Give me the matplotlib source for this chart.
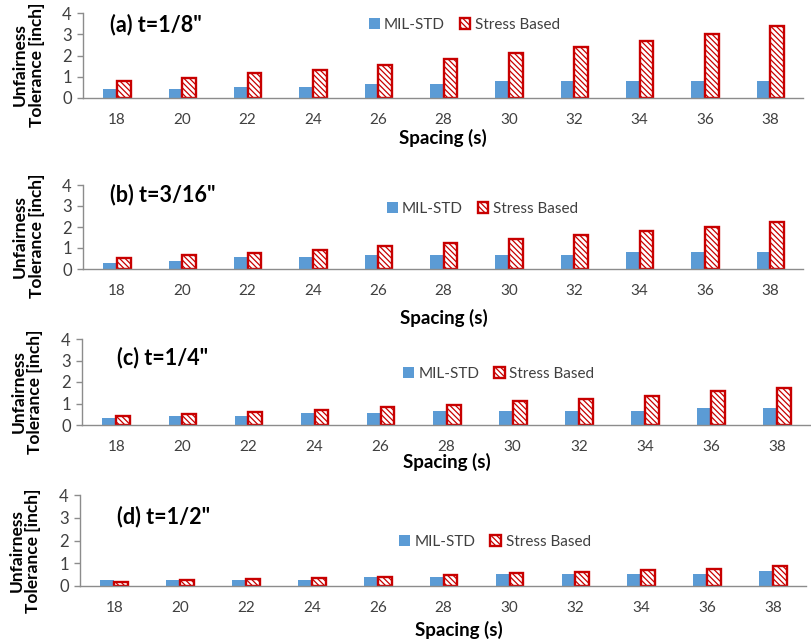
import numpy as np
import matplotlib
matplotlib.use("Agg")
import matplotlib.pyplot as plt

plt.rcParams['font.family'] = ['Lato', 'DejaVu Sans']
plt.rcParams['hatch.linewidth'] = 0.9

spacing = [18, 20, 22, 24, 26, 28, 30, 32, 34, 36, 38]

# tolerance values per plate thickness
mil_a = [0.42, 0.42, 0.52, 0.52, 0.65, 0.65, 0.81, 0.81, 0.81, 0.81, 0.81]
stress_a = [0.78, 0.93, 1.17, 1.34, 1.57, 1.84, 2.10, 2.40, 2.69, 3.03, 3.39]

mil_b = [0.28, 0.38, 0.55, 0.55, 0.67, 0.67, 0.67, 0.67, 0.79, 0.79, 0.79]
stress_b = [0.54, 0.65, 0.76, 0.92, 1.08, 1.23, 1.42, 1.61, 1.80, 2.02, 2.23]

mil_c = [0.31, 0.43, 0.43, 0.54, 0.54, 0.67, 0.67, 0.67, 0.67, 0.81, 0.81]
stress_c = [0.42, 0.50, 0.61, 0.72, 0.82, 0.95, 1.10, 1.21, 1.37, 1.56, 1.70]

mil_d = [0.27, 0.27, 0.27, 0.27, 0.40, 0.40, 0.53, 0.53, 0.53, 0.53, 0.67]
stress_d = [0.18, 0.27, 0.32, 0.36, 0.39, 0.48, 0.55, 0.63, 0.70, 0.76, 0.86]

titles = ['(a) t=1/8"', '(b) t=3/16"', '(c) t=1/4"', '(d) t=1/2"']
mil_all = [mil_a, mil_b, mil_c, mil_d]
stress_all = [stress_a, stress_b, stress_c, stress_d]

W, H = 812, 644
blue = '#5B9BD5'
red = '#C80000'
grey = '#8C8C8C'

# panel geometry in pixels: left, right, y of 0, y of 4
boxes = [(83, 803, 98, 13), (83, 803, 269, 185), (82, 810, 425, 339), (80, 806, 586, 495)]
title_pos = [(0.038, 0.86), (0.038, 0.89), (0.048, 0.79), (0.051, 0.76)]
legend_pos = [(0.397, 0.86), (0.422, 0.714), (0.441, 0.593), (0.44, 0.483)]
xlabel_pos = [(443, 138), (444, 318), (447, 462), (459, 630)]

fig = plt.figure(figsize=(W / 100, H / 100), dpi=100)
x = np.arange(len(spacing))
bw = 0.21

for i in range(4):
    l, r, y0, y4 = boxes[i]
    ax = fig.add_axes([l / W, 1 - y0 / H, (r - l) / W, (y0 - y4) / H])
    ax.bar(x - bw / 2, mil_all[i], bw, color=blue, label='MIL-STD')
    ax.bar(x + bw / 2, stress_all[i], bw, color='white', edgecolor=red,
           hatch='\\\\\\\\\\\\', linewidth=1.7, label='Stress Based')
    ax.set_xlim(-0.52, 10.5)
    ax.set_ylim(0, 4)
    ax.set_yticks([0, 1, 2, 3, 4])
    ax.set_xticks(x)
    ax.set_xticklabels(spacing)
    for s in ['top', 'right']:
        ax.spines[s].set_visible(False)
    for s in ['left', 'bottom']:
        ax.spines[s].set_color(grey)
        ax.spines[s].set_linewidth(1.0)
    ax.tick_params(axis='x', length=0, pad=11, labelsize=11, colors='#404040')
    ax.tick_params(axis='y', length=4, width=1, color=grey, pad=4,
                   labelsize=12, labelcolor='#404040')
    ax.text(title_pos[i][0], title_pos[i][1], titles[i], transform=ax.transAxes,
            ha='left', va='center', fontsize=15.5, fontweight='bold')
    ax.text(-0.076, 0.39, 'Unfairness\nTolerance [inch]', transform=ax.transAxes,
            rotation=90, ha='center', va='center', multialignment='center',
            fontsize=12.5, fontweight='bold', linespacing=1.05)
    ax.legend(loc='center left', bbox_to_anchor=legend_pos[i], ncol=2, frameon=False,
              borderpad=0, borderaxespad=0, handlelength=0.7, handleheight=0.7,
              handletextpad=0.3, columnspacing=0.95, fontsize=11,
              labelcolor='#404040')
    fig.text(xlabel_pos[i][0] / W, 1 - xlabel_pos[i][1] / H, 'Spacing (s)',
             ha='center', va='center', fontsize=13.5, fontweight='bold')

fig.savefig('out.png', dpi=100)
